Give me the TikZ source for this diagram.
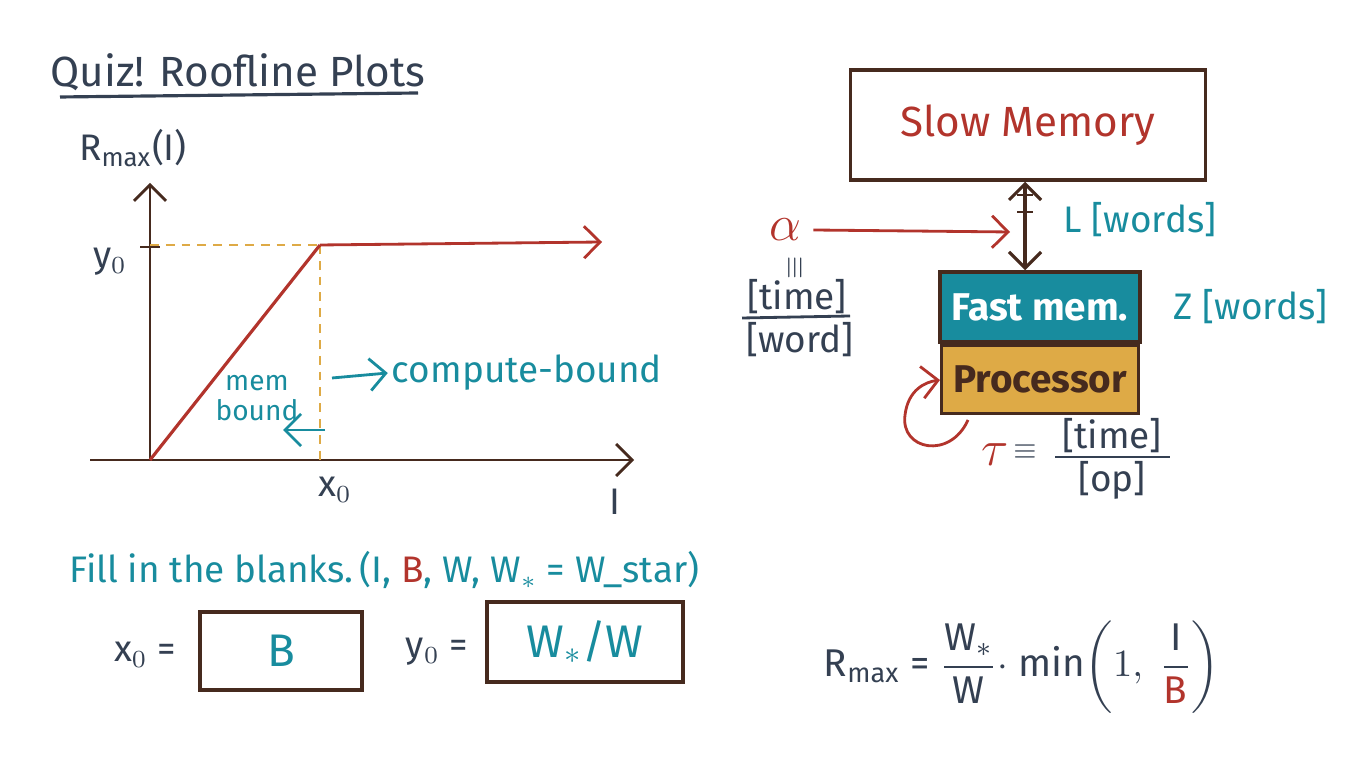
\documentclass[tikz,border=0pt]{standalone}
\usepackage{amsmath}
\usepackage{fontspec}
\setmainfont{Fira Sans}
\usepackage{tikz}
\usetikzlibrary{arrows.meta, positioning, calc}
\definecolor{inkNavy}{RGB}{52,64,82}
\definecolor{inkRed}{RGB}{178,52,44}
\definecolor{inkTeal}{RGB}{24,140,158}
\definecolor{inkGold}{RGB}{222,170,70}
\definecolor{inkBrown}{RGB}{70,42,30}
\begin{document}
\begin{tikzpicture}[
    x=0.01cm, y=-0.01cm,
    label/.style={font=\fontsize{10.5}{12}\selectfont, inner sep=1pt},
    small/.style={font=\fontsize{8}{8.5}\selectfont, inner sep=1pt},
    box/.style={draw=inkBrown, line width=1pt},
    arrow/.style={-{Straight Barb[length=1.6mm]}, line width=0.8pt},
    dashline/.style={inkGold, line width=0.8pt, dash pattern=on 2.5pt off 2pt}
]
\useasboundingbox (0,0) rectangle (1368,768);

% Title
\node[label, text=inkNavy, font=\fontsize{12}{14}\selectfont] (title) at (238,72) {Quiz! Roofline Plots};
\draw[inkNavy, line width=0.9pt] (60,97) -- (418,93);

% Axes
\coordinate (origin) at (150,460);
\coordinate (ytop) at (150,183);
\coordinate (xleft) at (90,460);
\coordinate (xright) at (634,460);
\draw[arrow, inkBrown] (origin) -- (ytop);
\draw[arrow, inkBrown] (xleft) -- (xright);
\node[label, text=inkNavy] (rmaxlab) at (133,148) {R$_{\mathrm{max}}$(I)};
\node[label, text=inkNavy] (ylab) at (110,262) {y$_0$};
\node[label, text=inkNavy] (xlab) at (335,490) {x$_0$};
\node[label, text=inkNavy] (ilab) at (615,502) {I};

% Roofline
\coordinate (ridge) at (320,245);
\coordinate (yzero) at (150,245);
\coordinate (xzero) at (320,460);
\coordinate (roofend) at (602,242);
\draw[dashline] (yzero) -- (ridge);
\draw[dashline] (ridge) -- (xzero);
\draw[inkBrown, line width=0.8pt] (140,247) -- (160,247);
\draw[inkRed, line width=0.9pt] (origin) -- (ridge);
\draw[arrow, inkRed] (ridge) -- (roofend);

% Regions
\node[small, text=inkTeal, align=center] (membound) at (257,398) {mem\\bound};
\coordinate (memstart) at (325,430);
\coordinate (memend) at (283,430);
\draw[arrow, inkTeal] (memstart) -- (memend);
\node[label, text=inkTeal] (compute) at (527,373) {compute-bound};
\coordinate (compstart) at (332,378);
\draw[arrow, inkTeal] (compstart) -- (compute.west);

% Machine model
\node[box, minimum width=355*0.01cm, minimum height=110*0.01cm, text=inkRed, font=\fontsize{12}{14}\selectfont] (slow) at (1028,125) {Slow Memory};
\node[box, fill=inkTeal, minimum width=190*0.01cm, minimum height=70*0.01cm, text=white, font=\fontsize{11}{13}\selectfont\bfseries] (fast) at (1040,307) {Fast mem.};
\node[box, fill=inkGold, minimum width=195*0.01cm, minimum height=68*0.01cm, text=inkBrown, font=\fontsize{11}{13}\selectfont\bfseries, below=0pt of fast] (proc) {Processor};
\draw[{Straight Barb[length=1.6mm]}-{Straight Barb[length=1.6mm]}, line width=0.9pt, inkBrown] (slow.south -| 1025,0) -- (fast.north -| 1025,0);
\draw[inkBrown, line width=0.8pt] (1017,195) -- (1033,195) (1017,212) -- (1033,212);
\node[label, text=inkTeal] (lwords) at (1140,220) {L [words]};
\node[label, text=inkTeal, right=8pt of fast] (zwords) {Z [words]};

% Latency
\node[font=\fontsize{14}{16}\selectfont, text=inkRed] (alpha) at (785,230) {$\alpha$};
\coordinate (alphaend) at (1010,232);
\draw[arrow, inkRed] (alpha.east) -- (alphaend);
\node[small, text=inkNavy, rotate=90] (alphaeq) at (795,268) {$\equiv$};
\node[label, text=inkNavy] (timew) at (797,297) {[time]};
\node[label, text=inkNavy] (word) at (800,340) {[word]};
\draw[inkNavy, line width=0.8pt] (742,318) -- (850,316);

% Compute time
\draw[arrow, inkRed] (968,420) .. controls (950,460) and (900,450) .. (905,415) .. controls (908,390) and (925,382) .. (940,380);
\node[font=\fontsize{14}{16}\selectfont, text=inkRed] (tau) at (995,455) {$\tau$};
\node[small, text=inkNavy] (taueq) at (1025,452) {$\equiv$};
\node[label, text=inkNavy] (timeop) at (1112,436) {[time]};
\node[label, text=inkNavy] (op) at (1112,480) {[op]};
\draw[inkNavy, line width=0.8pt] (1055,457) -- (1170,457);

% Blanks
\node[label, text=inkTeal, anchor=west] (fill) at (65,570) {Fill in the blanks.\,(I, \textcolor{inkRed}{B}, W, W$_{*}$ = W\_star)};
\node[label, text=inkNavy] (xeq) at (145,655) {x$_0$ =};
\node[box, minimum width=162*0.01cm, minimum height=78*0.01cm, text=inkTeal, font=\fontsize{13}{15}\selectfont] (bbox) at (281,651) {B};
\node[label, text=inkNavy] (yeq) at (437,652) {y$_0$ =};
\node[box, minimum width=196*0.01cm, minimum height=80*0.01cm, text=inkTeal, font=\fontsize{13}{15}\selectfont] (wbox) at (585,642) {W$_{*}$/W};

% Formula
\node[font=\fontsize{11}{13}\selectfont, text=inkNavy] (formula) at (1022,667) {R$_{\mathrm{max}}$ = $\dfrac{\mathrm{W}_{*}}{\mathrm{W}}\cdot$ min$\left(1,\ \dfrac{\mathrm{I}}{\textcolor{inkRed}{\mathrm{B}}}\right)$};
\end{tikzpicture}
\end{document}
